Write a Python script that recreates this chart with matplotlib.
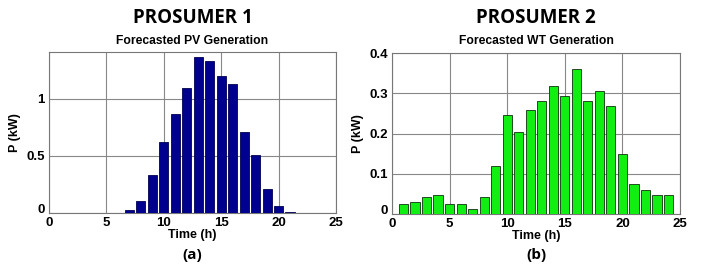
import matplotlib
matplotlib.use("Agg")
import numpy as np
from matplotlib import pyplot as plt
from matplotlib.transforms import ScaledTranslation

hours = np.arange(1, 25)

pv = [0, 0, 0, 0, 0, 0, 0.026, 0.108, 0.332, 0.618, 0.869, 1.099,
      1.364, 1.335, 1.198, 1.131, 0.706, 0.51, 0.207, 0.058, 0.01, 0, 0, 0]
wt = [0.026, 0.031, 0.041, 0.046, 0.026, 0.024, 0.012, 0.041, 0.12, 0.247,
      0.204, 0.258, 0.281, 0.319, 0.293, 0.36, 0.281, 0.306, 0.269, 0.15,
      0.074, 0.06, 0.046, 0.046]

titles = ['PROSUMER 1', 'PROSUMER 2']
subtitles = ['Forecasted PV Generation', 'Forecasted WT Generation']
letters = ['(a)', '(b)']
xticks = [0, 5, 10, 15, 20, 25]
yticks_list = [[0, 0.5, 1], [0, 0.1, 0.2, 0.3, 0.4]]
yticklabels_list = [['0', '0.5', '1'], ['0', '0.1', '0.2', '0.3', '0.4']]
ylims = [1.41, 0.4]
colors = ['#00008f', '#11ee11']
edges = ['#000050', '#103010']

fig = plt.figure(figsize=(7.01, 2.69), dpi=100)
W, H = 701, 269
boxes = [(49, 52, 336, 213), (392, 53, 680, 214)]

for i, data in enumerate([pv, wt]):
    x0, y0, x1, y1 = boxes[i]
    ax = fig.add_axes([x0 / W, 1 - y1 / H, (x1 - x0) / W, (y1 - y0) / H])
    ax.bar(hours, data, width=0.8, color=colors[i], edgecolor=edges[i], linewidth=0.6, zorder=3)
    ax.set_xlim(0, 25)
    ax.set_ylim(0, ylims[i])
    ax.set_xticks(xticks)
    ax.set_xticklabels([str(t) for t in xticks], fontweight='bold', fontsize=9.5, family='Liberation Sans')
    ax.set_yticks(yticks_list[i])
    ax.set_yticklabels(yticklabels_list[i], fontweight='bold', fontsize=9.5, family='Liberation Sans')
    ax.grid(True, color='#888888', linewidth=0.8, zorder=0)
    ax.tick_params(axis='x', length=0, pad=3)
    ax.tick_params(axis='y', length=0, pad=3)
    # lift the y "0" a little so it sits clear of the x "0", as in the original
    lab0 = ax.get_yticklabels()[0]
    lab0.set_transform(lab0.get_transform() + ScaledTranslation(0, 3 / 72, fig.dpi_scale_trans))
    for s in ax.spines.values():
        s.set_color('#777777')
        s.set_linewidth(0.8)
    ax.set_xlabel('Time (h)', fontweight='bold', fontsize=9, family='Liberation Sans', labelpad=0)
    ax.set_ylabel('P (kW)', fontweight='bold', fontsize=9, family='Liberation Sans', labelpad=4)
    cx = (x0 + x1) / 2 / W
    fig.text(cx, 1 - 18 / H, titles[i], ha='center', va='center', fontsize=13.5,
             fontweight='bold', family='Open Sans')
    fig.text(cx, 1 - 41 / H, subtitles[i], ha='center', va='center', fontsize=8.7,
             fontweight='bold', family='Liberation Sans')
    fig.text(cx, 1 - 255 / H, letters[i], ha='center', va='center', fontsize=11,
             fontweight='bold', family='Open Sans')

fig.savefig('out.png', dpi=100)
